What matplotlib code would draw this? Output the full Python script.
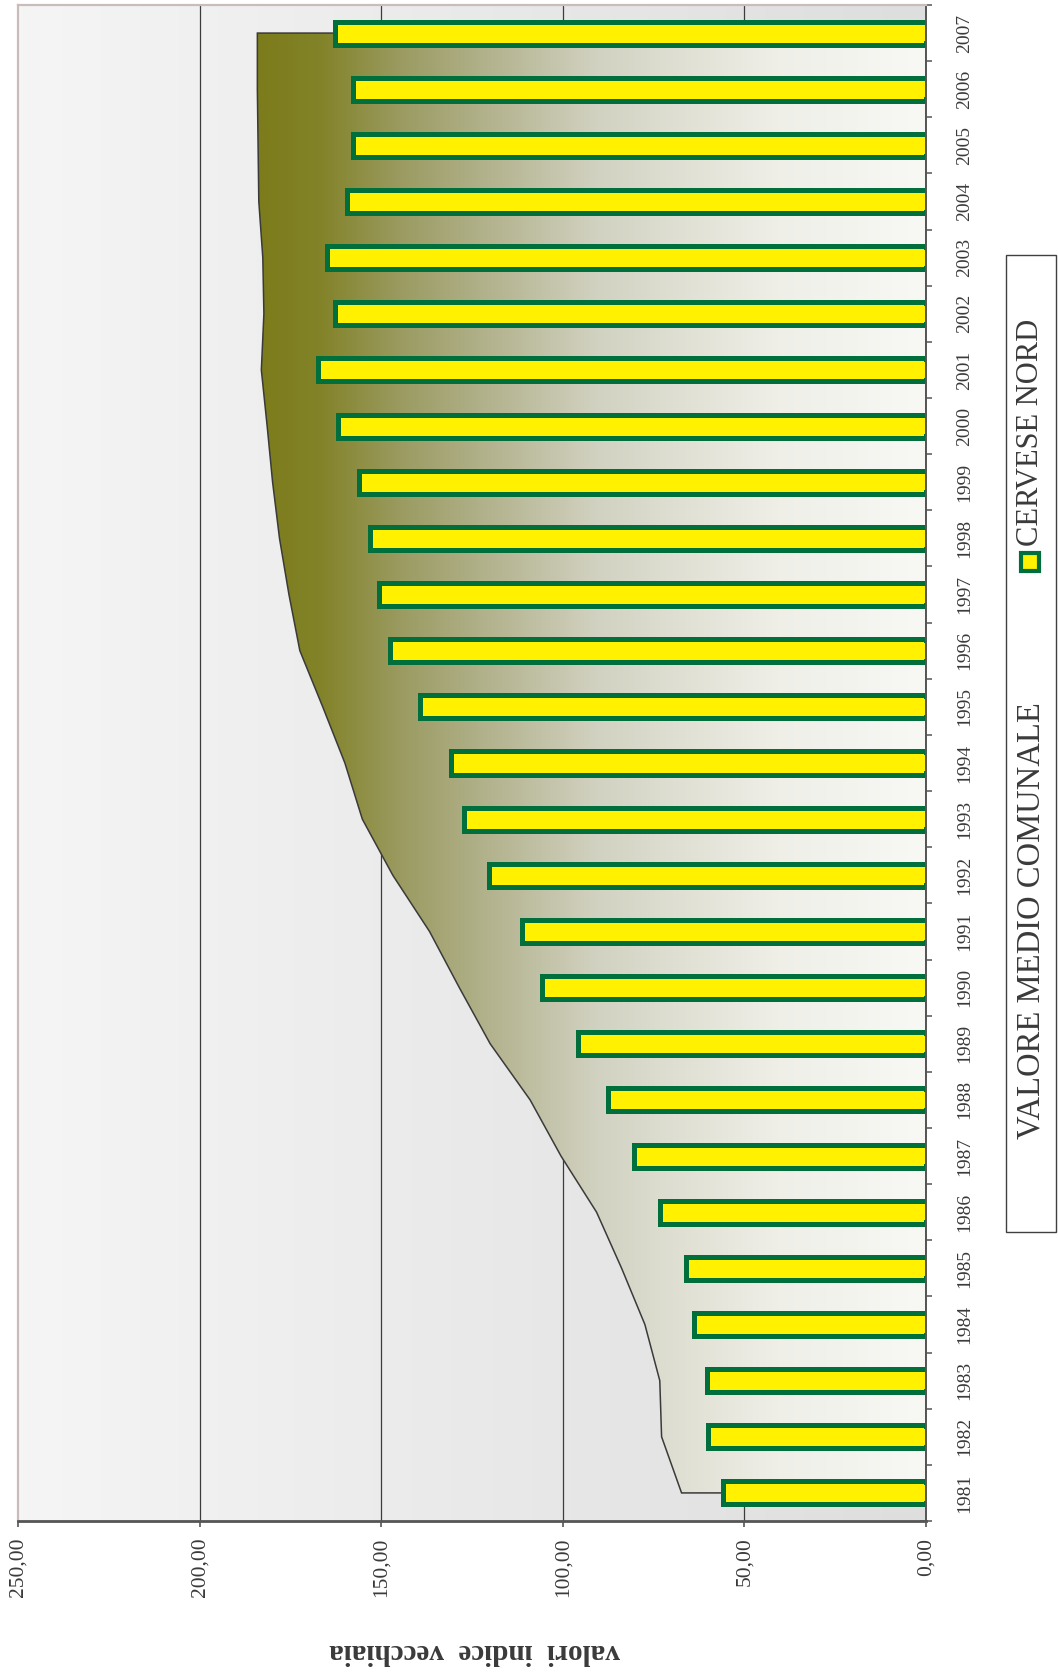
"""
Indice di vecchiaia - Cervese Nord vs media comunale (chart drawn rotated, as in the source page).
"""
import matplotlib

matplotlib.use("Agg")
import matplotlib.pyplot as plt  # noqa: E402
import numpy as np  # noqa: E402
from matplotlib.colors import LinearSegmentedColormap  # noqa: E402
from matplotlib.patches import Polygon, Rectangle  # noqa: E402

years = list(range(1981, 2008))
cervese_nord = [55.8, 59.9, 60.3, 64.0, 66.2, 73.3, 80.4, 87.5, 95.8, 105.8,
                111.2, 120.4, 127.3, 130.8, 139.2, 147.6, 150.7, 153.2, 156.1, 161.9,
                167.3, 162.8, 164.8, 159.5, 157.7, 157.7, 162.8]
media_comunale = [67.3, 72.8, 73.3, 77.4, 83.8, 90.7, 100.5, 109.0, 120.0, 128.5,
                  136.7, 146.8, 155.2, 160.0, 166.1, 172.4, 175.4, 178.0, 179.9, 181.4,
                  183.0, 182.3, 182.6, 183.7, 183.9, 184.1, 184.1]
value_ticks = [0, 50, 100, 150, 200, 250]
value_labels = ["0,00", "50,00", "100,00", "150,00", "200,00", "250,00"]
legend_labels = ["VALORE MEDIO COMUNALE", "CERVESE NORD"]
axis_title = "valori  indice  vecchiaia"

SERIF = ["Liberation Serif", "DejaVu Serif"]
YELLOW = "#fff100"
GREEN = "#006f3c"
AXIS_GRAY = "#555555"
FRAME_PINK = "#cbbcbc"
TEXT = "#3a3a3a"

W, H = 1058, 1677
fig = plt.figure(figsize=(W / 100, H / 100), dpi=100)
fig.patch.set_facecolor("white")


def fx(px):
    return px / W


def fy(py):
    return 1 - py / H


ax = fig.add_axes([fx(18), fy(1521), fx(926) - fx(18), fy(5) - fy(1521)])
pos = np.arange(len(years))
ymin, ymax = -0.5, len(years) - 0.5

# background: light grey, a bit darker towards the zero line
bg_cmap = LinearSegmentedColormap.from_list("bg", ["#dedede", "#f5f5f5"])
ax.imshow(np.linspace(0, 1, 256).reshape(1, -1), cmap=bg_cmap, aspect="auto",
          extent=(0, 250, ymin, ymax), zorder=0, interpolation="bilinear")

for v in value_ticks[1:-1]:
    ax.axvline(v, color="#3c3c3c", linewidth=0.9, zorder=1)

# area for the municipal average, olive -> white gradient clipped to the outline
vmax = max(media_comunale)
area_cmap = LinearSegmentedColormap.from_list(
    "area",
    [(0.0, "#f8f8f5"), (0.22, "#efefe8"), (0.49, "#d2d2c2"), (0.64, "#b5b592"),
     (0.79, "#9a9a60"), (0.91, "#828228"), (1.0, "#7c7c1c")])
verts = [(0, pos[0])] + list(zip(media_comunale, pos)) + [(0, pos[-1])]
outline = Polygon(verts, closed=True, facecolor="none", edgecolor="#3a3a3a",
                  linewidth=1.1, zorder=3)
ax.add_patch(outline)
grad = ax.imshow(np.linspace(0, 1, 256).reshape(1, -1), cmap=area_cmap, aspect="auto",
                 extent=(0, vmax, ymin, ymax), zorder=2, interpolation="bilinear")
grad.set_clip_path(outline)

ax.barh(pos, cervese_nord, height=0.41, color=YELLOW, edgecolor=GREEN,
        linewidth=3.6, zorder=4)
# yellow runs right up to the axis, no green edge on the zero side
ax.barh(pos, [1.0] * len(years), height=0.41 - 0.12, color=YELLOW, linewidth=0, zorder=5)

ax.set_xlim(250, 0)
ax.set_ylim(ymin, ymax)

ax.set_xticks(value_ticks, labels=value_labels, rotation=90, family=SERIF,
              fontsize=15.5, color=TEXT)
ax.tick_params(axis="x", direction="out", length=4, width=1.2, color=AXIS_GRAY, pad=8)

ax.yaxis.tick_right()
ax.set_yticks(pos, labels=[str(y) for y in years], rotation=90, va="center",
              family=SERIF, fontsize=14, color=TEXT)
ax.set_yticks(np.arange(ymin, ymax + 1), minor=True)
ax.tick_params(axis="y", which="major", length=0, pad=22)
ax.tick_params(axis="y", which="minor", direction="inout", length=9, width=1.1,
               color=AXIS_GRAY)

ax.spines["right"].set_color(AXIS_GRAY)
ax.spines["right"].set_linewidth(1.4)
ax.spines["bottom"].set_color(AXIS_GRAY)
ax.spines["bottom"].set_linewidth(2.0)
ax.spines["left"].set_color(FRAME_PINK)
ax.spines["left"].set_linewidth(1.6)
ax.spines["top"].set_color(FRAME_PINK)
ax.spines["top"].set_linewidth(1.6)
for sp in ax.spines.values():
    sp.set_zorder(6)

fig.text(fx(475), fy(1652), axis_title, rotation=180, ha="center", va="center",
         family=SERIF, fontsize=21, fontweight="bold", color=TEXT)

# legend, drawn rotated like the rest of the chart
fig.patches.append(Rectangle((fx(1006), fy(1232)), fx(1056) - fx(1006), fy(255) - fy(1232),
                             transform=fig.transFigure, facecolor="white",
                             edgecolor="#404040", linewidth=1.0))

lax = fig.add_axes([fx(1020), fy(1162), fx(20), fy(1142) - fy(1162)])
lax.imshow(np.linspace(1, 0, 64).reshape(1, -1), cmap=area_cmap, aspect="auto",
           extent=(0, 1, 0, 1))
lax.set_xticks([])
lax.set_yticks([])
for sp in lax.spines.values():
    sp.set_color("#333333")
    sp.set_linewidth(1.2)

fig.patches.append(Rectangle((fx(1021), fy(571)), fx(18), fy(553) - fy(571),
                             transform=fig.transFigure, facecolor=YELLOW,
                             edgecolor=GREEN, linewidth=3.0))

fig.text(fx(1031), fy(1139), legend_labels[0], rotation=90, ha="center", va="bottom",
         family=SERIF, fontsize=23.5, color=TEXT)
fig.text(fx(1031), fy(546), legend_labels[1], rotation=90, ha="center", va="bottom",
         family=SERIF, fontsize=22, color=TEXT)

fig.savefig("out.png", dpi=100)
plt.close(fig)
